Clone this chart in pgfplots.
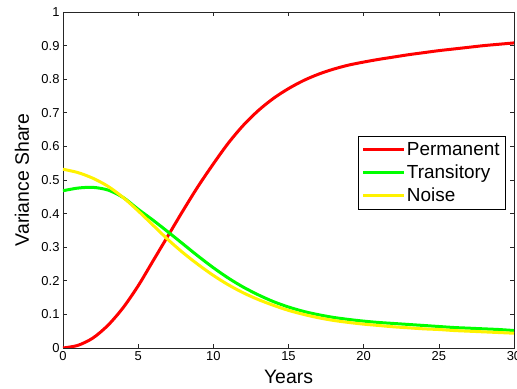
\documentclass[border=0pt]{standalone}
\usepackage{fontspec}
\setmainfont{Liberation Sans}
\usepackage{pgfplots}
\pgfplotsset{compat=1.18}
\begin{document}
\begin{tikzpicture}
\begin{axis}[
  scale only axis, width=451bp, height=336bp,
  xmin=0, xmax=30, ymin=0, ymax=1,
  xtick={0,5,10,15,20,25,30},
  ytick={0,0.1,0.2,0.3,0.4,0.5,0.6,0.7,0.8,0.9,1},
  yticklabels={0,0.1,0.2,0.3,0.4,0.5,0.6,0.7,0.8,0.9,1},
  /pgf/number format/assume math mode=true,
  tick label style={font=\fontsize{13}{15}\selectfont},
  tick align=inside, major tick length=4bp,
  xtick pos=both, ytick pos=both,
  axis line style={line width=0.8bp, black!85},
  tick style={line width=0.6bp, black!85},
  xlabel={Years}, ylabel={Variance Share},
  label style={font=\fontsize{19.5}{22}\selectfont},
  xlabel style={at={(axis description cs:0.5,0)}, anchor=north, yshift=-19bp},
  ylabel style={at={(axis description cs:-0.0909,0.5)}, anchor=center},
  legend style={at={(rel axis cs:0.982,0.631)}, anchor=north east, draw=black, line width=0.6bp,
    font=\fontsize{19}{21}\selectfont, row sep=4bp, inner sep=4bp},
  legend cell align=left,
  legend image code/.code={\draw[#1] (0bp,0bp) -- (40bp,0bp);},
]
\addplot[red, line width=3bp, smooth] coordinates {
(0,0) (1,0.008) (2,0.03) (3,0.068) (4,0.12) (5,0.185) (6,0.26) (7,0.335) (8,0.41) (9,0.482)
(10,0.548) (11,0.61) (12,0.663) (13,0.707) (14,0.743) (15,0.772) (16,0.796) (17,0.815) (18,0.83)
(19,0.842) (20,0.851) (21,0.859) (22,0.866) (23,0.873) (24,0.879) (25,0.885) (26,0.89) (27,0.895)
(28,0.9) (29,0.904) (30,0.908)};
\addlegendentry{Permanent}
\addplot[green, line width=3bp, smooth] coordinates {
(0,0.468) (1,0.476) (2,0.478) (3,0.47) (4,0.448) (5,0.413) (6,0.38) (7,0.345) (8,0.309) (9,0.273)
(10,0.239) (11,0.208) (12,0.181) (13,0.158) (14,0.138) (15,0.122) (16,0.109) (17,0.099) (18,0.091)
(19,0.085) (20,0.08) (21,0.076) (22,0.073) (23,0.07) (24,0.067) (25,0.064) (26,0.061) (27,0.059)
(28,0.057) (29,0.055) (30,0.052)};
\addlegendentry{Transitory}
\addplot[yellow, line width=3bp, smooth] coordinates {
(0,0.532) (1,0.522) (2,0.505) (3,0.481) (4,0.448) (5,0.408) (6,0.365) (7,0.322) (8,0.283) (9,0.248)
(10,0.216) (11,0.188) (12,0.164) (13,0.144) (14,0.127) (15,0.112) (16,0.1) (17,0.09) (18,0.082)
(19,0.076) (20,0.071) (21,0.067) (22,0.063) (23,0.06) (24,0.057) (25,0.055) (26,0.052) (27,0.05)
(28,0.048) (29,0.046) (30,0.044)};
\addlegendentry{Noise}
\end{axis}
\pgfresetboundingbox
\useasboundingbox (-63bp,-41bp) rectangle (454bp,348bp);
\end{tikzpicture}
\end{document}
